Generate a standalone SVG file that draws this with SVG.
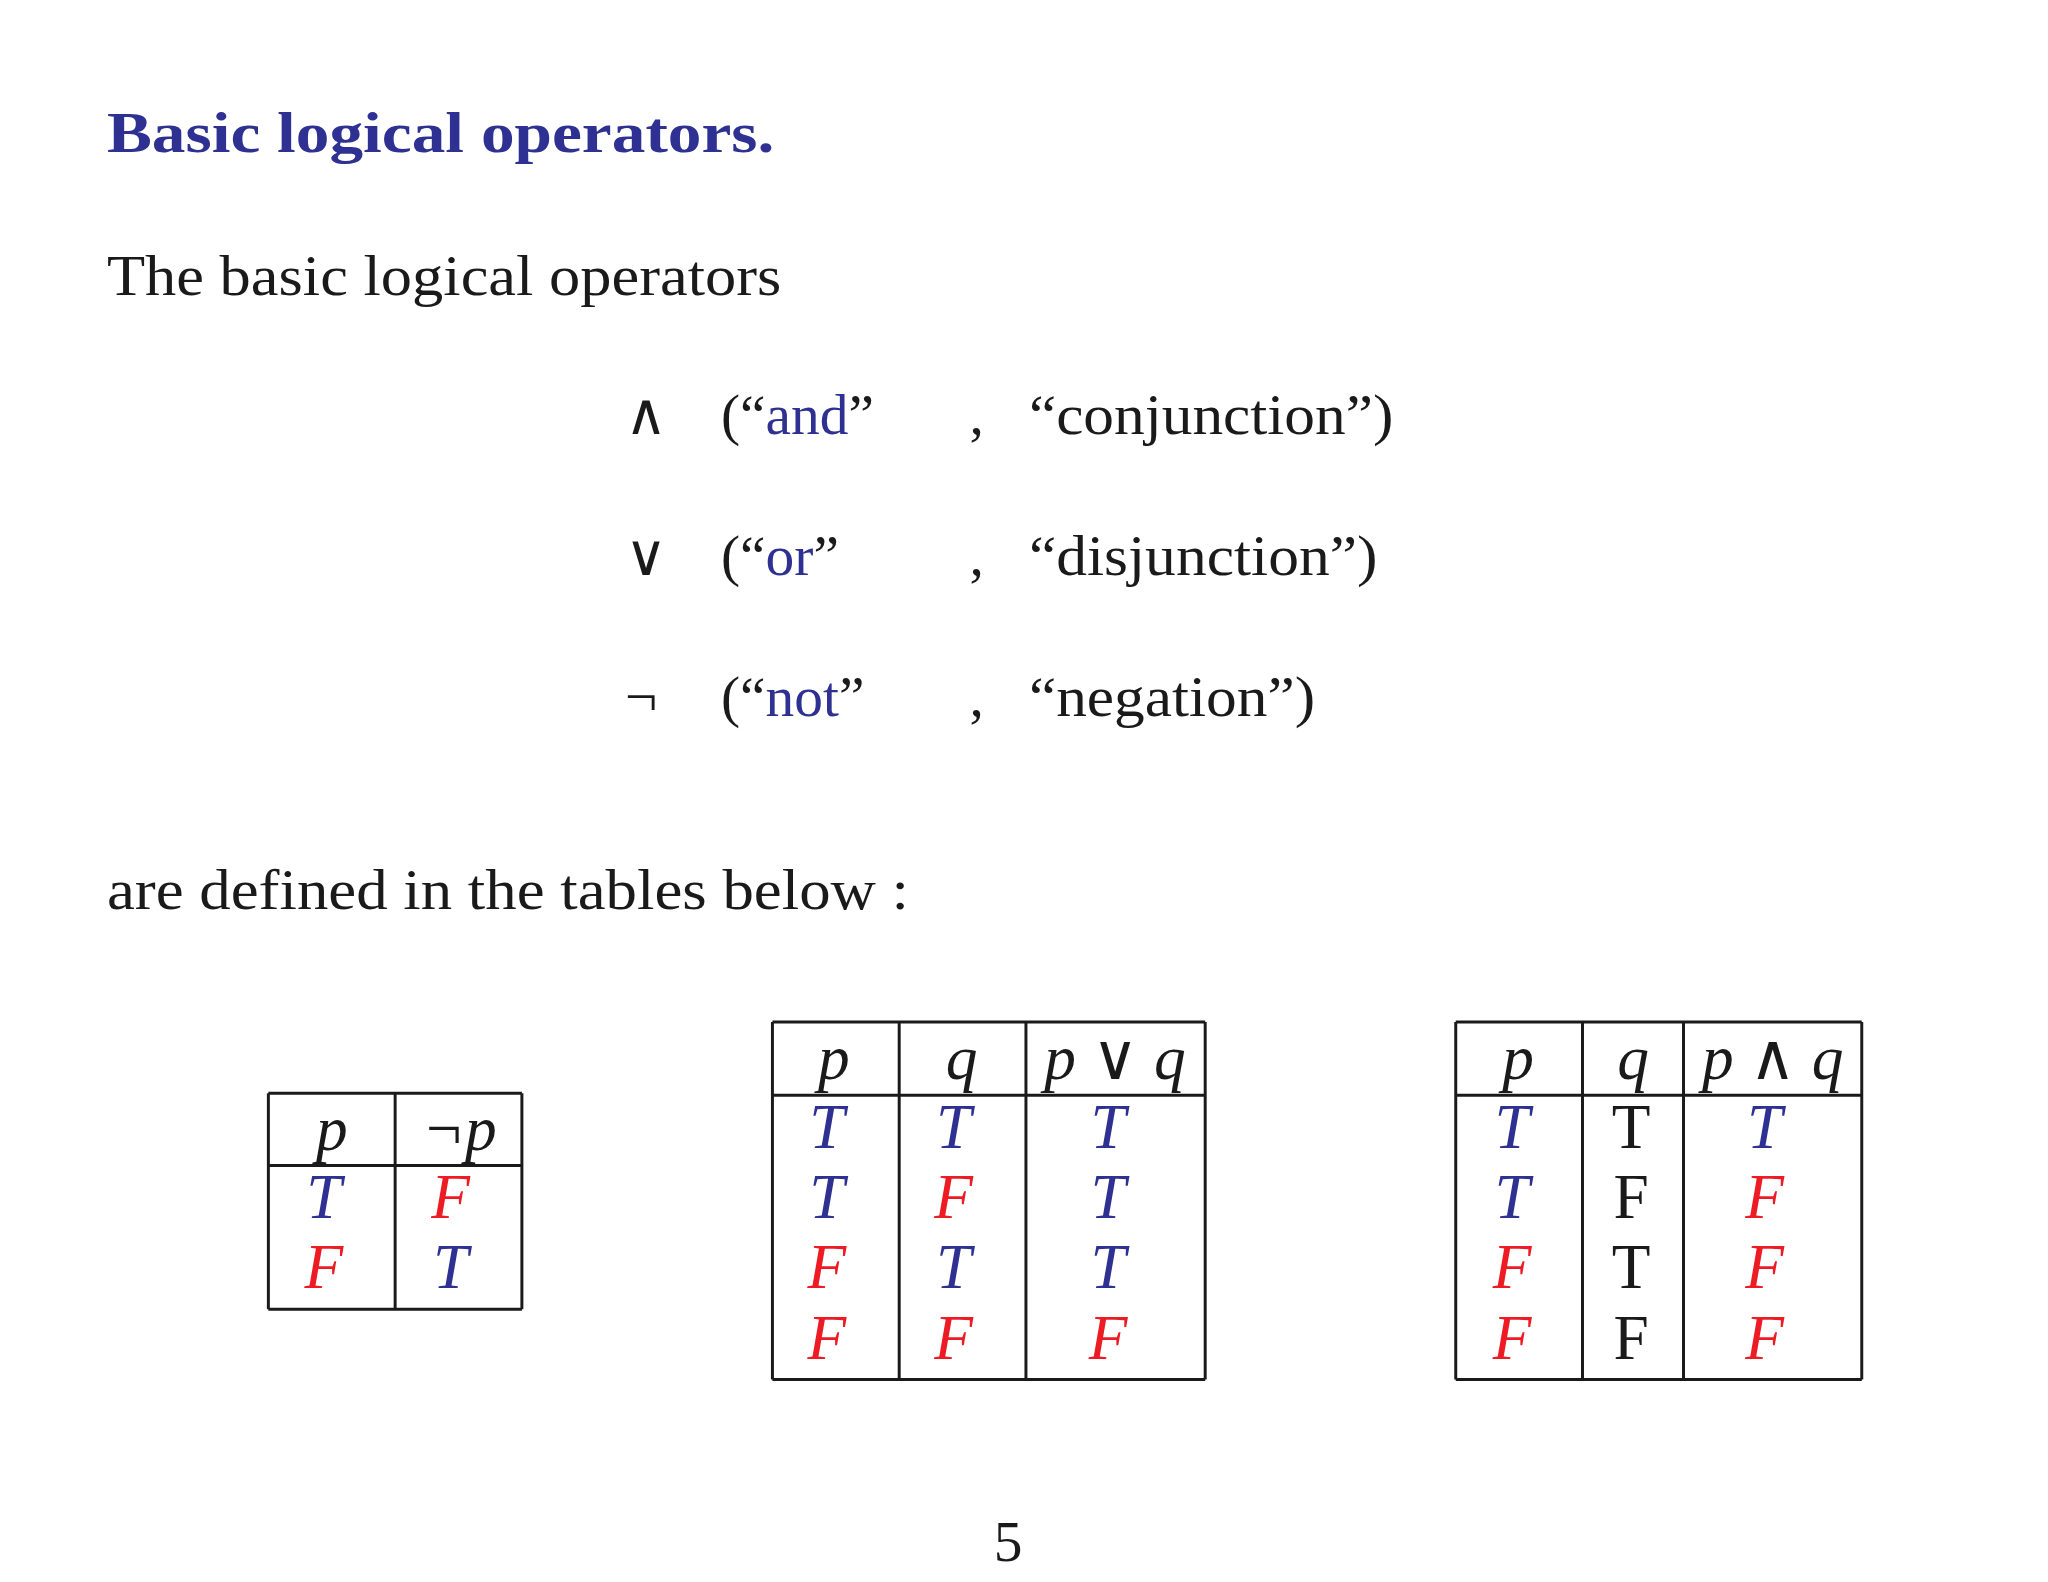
<svg xmlns="http://www.w3.org/2000/svg" width="2048" height="1582" viewBox="0 0 2048 1582">
<style>
text{font-family:"Liberation Serif","DejaVu Serif",serif;fill:#1a1a1a}
.t{font-size:58px}
.b{fill:#2e3192}
.r{fill:#ed1c24}
.m{font-style:italic;font-size:64px;text-anchor:middle}
.n{font-size:64px;text-anchor:middle}
.g line{stroke:#1a1a1a;stroke-width:3}
</style>
<rect width="2048" height="1582" fill="#fff"/>
<g transform="scale(0.9903)">
<text id="title" x="108" y="153" class="t b" font-weight="bold" textLength="674" lengthAdjust="spacingAndGlyphs">Basic logical operators.</text>
<text id="intro" x="108" y="298" class="t" textLength="681" lengthAdjust="spacingAndGlyphs">The basic logical operators</text>
<g id="ops" class="t">
<text x="631" y="438">∧</text>
<text x="728" y="438">(“<tspan class="b">and</tspan>”</text>
<text x="979" y="438">,</text>
<text x="1039" y="438" textLength="368" lengthAdjust="spacingAndGlyphs">“conjunction”)</text>
<text x="631" y="581">∨</text>
<text x="728" y="581">(“<tspan class="b">or</tspan>”</text>
<text x="979" y="581">,</text>
<text x="1039" y="581" textLength="352" lengthAdjust="spacingAndGlyphs">“disjunction”)</text>
<text x="631" y="723">¬</text>
<text x="728" y="723">(“<tspan class="b">not</tspan>”</text>
<text x="979" y="723">,</text>
<text x="1039" y="723" textLength="289" lengthAdjust="spacingAndGlyphs">“negation”)</text>
</g>
<text id="outro" x="108" y="918" class="t" textLength="810" lengthAdjust="spacingAndGlyphs">are defined in the tables below :</text>
<g id="table-not" class="g">
<line x1="271" y1="1104" x2="527" y2="1104"/><line x1="271" y1="1177" x2="527" y2="1177"/><line x1="271" y1="1322" x2="527" y2="1322"/>
<line x1="271" y1="1104" x2="271" y2="1322"/><line x1="399" y1="1104" x2="399" y2="1322"/><line x1="527" y1="1104" x2="527" y2="1322"/>
<text x="335" y="1161" class="m">p</text><text x="464" y="1161" class="m">¬p</text>
<text x="327" y="1230" class="m b">T</text><text x="455" y="1230" class="m r">F</text>
<text x="327" y="1301" class="m r">F</text><text x="455" y="1301" class="m b">T</text>
</g>
<g id="table-or" class="g">
<line x1="780" y1="1032" x2="1217" y2="1032"/><line x1="780" y1="1106" x2="1217" y2="1106"/><line x1="780" y1="1393" x2="1217" y2="1393"/>
<line x1="780" y1="1032" x2="780" y2="1393"/><line x1="908" y1="1032" x2="908" y2="1393"/><line x1="1036" y1="1032" x2="1036" y2="1393"/><line x1="1217" y1="1032" x2="1217" y2="1393"/>
<text x="842" y="1090" class="m">p</text><text x="971" y="1090" class="m">q</text><text x="1126" y="1090" class="m">p ∨ q</text>
<text x="835" y="1159" class="m b">T</text><text x="963" y="1159" class="m b">T</text><text x="1119" y="1159" class="m b">T</text>
<text x="835" y="1230" class="m b">T</text><text x="963" y="1230" class="m r">F</text><text x="1119" y="1230" class="m b">T</text>
<text x="835" y="1301" class="m r">F</text><text x="963" y="1301" class="m b">T</text><text x="1119" y="1301" class="m b">T</text>
<text x="835" y="1372" class="m r">F</text><text x="963" y="1372" class="m r">F</text><text x="1119" y="1372" class="m r">F</text>
</g>
<g id="table-and" class="g">
<line x1="1470" y1="1032" x2="1880" y2="1032"/><line x1="1470" y1="1106" x2="1880" y2="1106"/><line x1="1470" y1="1393" x2="1880" y2="1393"/>
<line x1="1470" y1="1032" x2="1470" y2="1393"/><line x1="1598" y1="1032" x2="1598" y2="1393"/><line x1="1700" y1="1032" x2="1700" y2="1393"/><line x1="1880" y1="1032" x2="1880" y2="1393"/>
<text x="1533" y="1090" class="m">p</text><text x="1649" y="1090" class="m">q</text><text x="1790" y="1090" class="m">p ∧ q</text>
<text x="1527" y="1159" class="m b">T</text><text x="1647" y="1159" class="n">T</text><text x="1782" y="1159" class="m b">T</text>
<text x="1527" y="1230" class="m b">T</text><text x="1647" y="1230" class="n">F</text><text x="1782" y="1230" class="m r">F</text>
<text x="1527" y="1301" class="m r">F</text><text x="1647" y="1301" class="n">T</text><text x="1782" y="1301" class="m r">F</text>
<text x="1527" y="1372" class="m r">F</text><text x="1647" y="1372" class="n">F</text><text x="1782" y="1372" class="m r">F</text>
</g>
<text id="page" x="1018" y="1576" class="t" text-anchor="middle">5</text>
</g>
</svg>
